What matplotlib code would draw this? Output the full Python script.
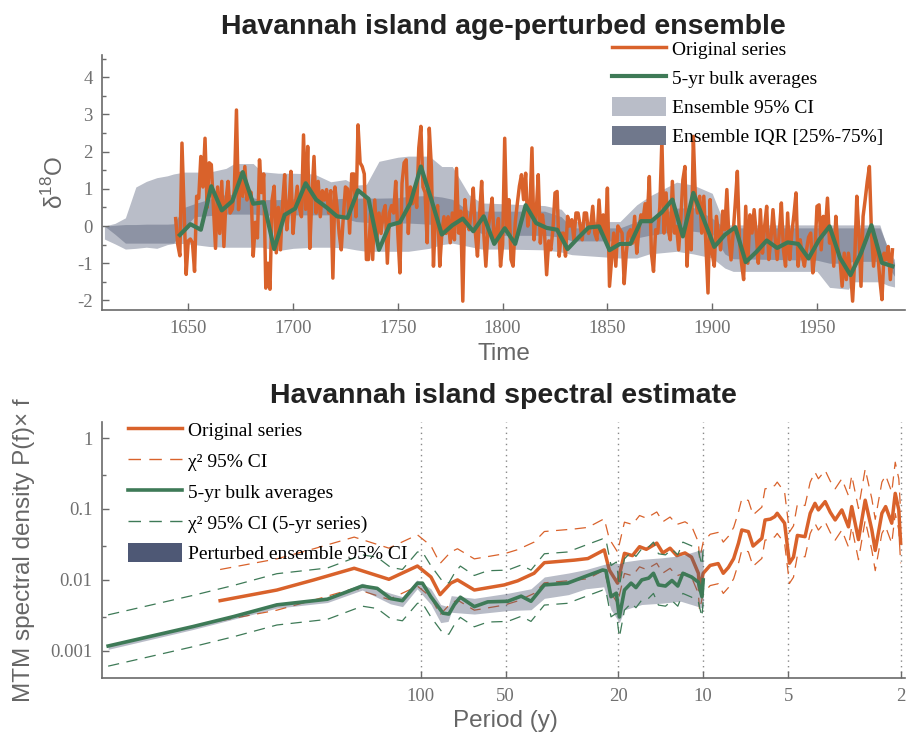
import numpy as np
import matplotlib
matplotlib.use('Agg')
import matplotlib.pyplot as plt
from matplotlib.lines import Line2D
from matplotlib.patches import Patch

plt.rcParams['font.family'] = 'Liberation Sans'
plt.rcParams['mathtext.fontset'] = 'custom'
plt.rcParams['mathtext.rm'] = 'Liberation Sans'
plt.rcParams['axes.unicode_minus'] = False

# ---------------- top panel: d18O time series ----------------
orig_start = 1644
d18o = [
    0.20, -0.50, -0.80, 2.23, 0.50, -1.30,
    -0.40, -0.35, -0.45, -1.22, 0.80, 0.75, 1.87, 1.05, 2.36, 0.50,
    1.70, 1.65, 0.55, -0.60, 1.05, -0.20, 1.20, -0.55, 0.70, 1.20,
    0.35, 0.45, 1.00, 3.12, 0.44, 1.42, 0.80, 1.60, 0.70, 0.95,
    0.90, -0.81, 0.10, -0.32, 1.78, 0.90, 1.40, -1.67, -1.00, -1.70,
    0.70, 1.07, -0.72, 0.50, -0.64, 0.60, 1.38, -0.10, 0.50, 1.47,
    -0.20, 0.55, 1.07, 0.50, 0.25, 2.45, 0.45, 2.14, -0.60, 0.80,
    1.87, 0.35, 1.20, 0.25, 0.95, 0.70, 0.98, 0.35, 0.95, -1.40,
    1.05, 0.50, -0.20, -0.64, 0.25, 1.05, 1.00, -0.19, 1.40, 1.40,
    0.25, 2.72, 1.70, 1.60, 1.40, -0.90, -0.90, 0.35, -0.90, 0.70,
    -0.35, 0.35, -0.20, 0.35, 0.55, -1.00, 0.35, 0.55, 0.35, 1.20,
    -0.20, -1.26, 1.15, 1.70, 1.78, -0.20, 1.05, 0.60, 1.05, 0.50,
    2.10, 2.68, 1.05, 0.90, -0.45, 2.63, 1.60, -1.08, 0.35, 0.55,
    -1.08, -0.20, 0.25, -0.20, 0.25, -0.45, 0.35, -0.37, 1.55, -0.19,
    0.40, -2.02, 0.71, 0.10, -0.10, 0.40, 1.02, -0.19, -0.81, 0.30,
    1.20, -0.19, -1.08, -0.10, 0.30, 0.75, -0.46, -0.19, 0.20, -1.08,
    -0.50, 2.36, -0.05, 0.71, -0.90, -1.08, 0.08, 0.60, 1.07, 1.38,
    0.71, 1.42, 0.00, 0.40, 2.10, -0.37, 0.35, 1.38, -0.46, 0.30,
    -0.19, -1.31, -0.40, -0.64, -0.10, 0.89, 0.93, -0.81, -0.20, -0.19,
    -0.81, 0.26, 0.00, 0.17, -0.37, 0.35, 0.35, 0.00, -0.37, 0.35,
    0.35, -0.20, 0.00, 0.53, -0.20, -0.37, 0.70, -0.19, 0.30, -0.37,
    1.02, -1.62, -0.90, -0.19, -1.08, 0.00, -0.10, -0.19, -1.55, -0.73,
    -0.19, -0.10, -0.46, 0.26, -0.73, -0.10, 0.30, 0.17, 0.60, 0.17,
    1.33, -0.73, -1.22, -0.10, -0.19, 0.50, 2.32, -0.19, 0.89, -0.10,
    -0.37, 1.20, -0.19, -0.01, -0.64, 0.17, 1.24, 1.60, -1.08, 0.26,
    -0.64, 2.41, 0.71, 0.35, 0.80, -0.19, 0.80, -0.50, -1.80, 0.71,
    -0.73, -1.08, 0.26, -0.19, -0.64, 0.40, -0.10, 0.98, -0.37, -0.91,
    -0.19, 0.60, 1.47, -0.37, -1.00, -1.44, 0.53, -1.00, 0.30, -0.19,
    0.44, -0.19, -1.00, 0.44, -0.73, -0.01, 0.53, -0.90, -0.37, 0.44,
    -0.30, -0.90, -0.19, 0.62, -0.64, -1.08, 0.35, -0.90, -0.19, 0.30,
    0.89, -1.08, -0.37, -0.81, -1.08, -0.64, -0.30, -0.19, -1.26, -0.73,
    0.53, 0.57, -0.64, 0.26, -0.10, 0.75, -0.46, -0.19, -1.08, 0.26,
    -0.60, -0.90, -1.62, -0.73, -1.44, -0.73, -1.20, -2.02, -0.90, 0.80,
    -0.19, -1.62, 0.26, 0.71, 1.20, 1.60, -0.19, -1.08, -0.37, -0.73,
    -1.44, -1.98, -0.73, -0.90, -0.55, -1.44, -0.64,
]
orig_years = orig_start + np.arange(len(d18o))

bulk_start, bulk_step = 1646, 5
bulk_d18o = [
    -0.24, 0.05, -0.10, 1.07, 0.42, 0.67, 1.45, 0.60, 0.64, -0.62,
    0.30, 0.47, 1.15, 0.71, 0.50, 0.26, 0.22, 0.96, 0.73, -0.64,
    0.02, 0.10, 0.62, 1.60, 0.71, -0.23, 0.02, 0.20, -0.14, 0.26,
    -0.48, -0.06, -0.48, 0.56, 0.08, -0.05, -0.10, -0.62, -0.32, -0.04,
    -0.01, -0.65, -0.48, -0.48, 0.13, 0.13, 0.37, 0.71, -0.28, 0.89,
    0.17, -0.56, -0.24, -0.03, -0.97, -0.70, -0.39, -0.59, -0.44, -0.48,
    -0.87, -0.37, -0.01, -0.86, -1.32, -0.73, 0.02, -0.99, -1.08,
]
bulk_years = bulk_start + bulk_step * np.arange(len(bulk_d18o))

# ensemble envelopes (knots)
band_years = [1610, 1615, 1620, 1625, 1630, 1635, 1640, 1643, 1648, 1653,
              1660, 1668, 1672, 1681, 1685, 1693, 1700, 1710, 1718, 1725,
              1730, 1735, 1741, 1750, 1755, 1765, 1771, 1776, 1784, 1790,
              1800, 1820, 1828, 1833, 1856, 1864, 1870, 1883, 1891, 1900,
              1906, 1910, 1950, 1956, 1965, 1967, 1980, 1984, 1987]
ci_lo = [-0.35, -0.48, -0.62, -0.60, -0.57, -0.60, -0.50, -0.47, -0.47, -0.50,
         -0.55, -0.57, -0.57, -0.57, -0.57, -0.66, -0.60, -0.57, -0.57, -0.59,
         -0.64, -0.68, -0.68, -0.68, -0.68, -0.60, -0.50, -0.46, -0.55, -0.62,
         -0.62, -0.64, -0.70, -0.77, -0.86, -0.86, -0.75, -0.68, -0.75, -0.86,
         -1.13, -1.22, -1.22, -1.65, -1.70, -1.50, -1.50, -1.60, -1.64]
iqr_lo = [0.00, -0.22, -0.46, -0.46, -0.46, -0.46, -0.46, -0.46, -0.05, 0.25,
          0.28, 0.32, 0.32, 0.32, 0.30, 0.28, 0.30, 0.30, 0.30, 0.20,
          0.12, 0.10, 0.08, 0.08, 0.08, 0.05, 0.02, 0.00, -0.05, -0.20,
          -0.25, -0.25, -0.30, -0.40, -0.40, -0.32, -0.25, -0.14, -0.14, -0.20,
          -0.75, -0.88, -0.92, -1.00, -1.00, -0.95, -0.95, -1.10, -1.35]
iqr_hi = [0.00, 0.02, 0.04, 0.04, 0.05, 0.05, 0.05, 0.06, 0.50, 0.60,
          0.72, 0.85, 0.85, 0.76, 0.71, 0.71, 0.73, 0.76, 0.72, 0.75,
          0.75, 0.75, 0.75, 0.76, 0.80, 0.82, 0.78, 0.72, 0.40, 0.40,
          0.40, 0.40, 0.25, -0.05, -0.05, 0.12, 0.20, 0.48, 0.50, 0.21,
          -0.05, -0.05, -0.05, -0.05, -0.05, -0.05, -0.05, -0.60, -1.00]
ci_hi = [0.00, 0.07, 0.22, 1.05, 1.20, 1.30, 1.35, 1.40, 1.45, 1.45,
         1.45, 1.55, 1.68, 1.68, 1.46, 1.42, 1.42, 1.40, 1.19, 1.25,
         1.10, 1.12, 1.74, 1.85, 1.88, 1.88, 1.60, 1.60, 0.84, 0.62,
         0.60, 0.55, 0.45, 0.12, 0.12, 0.57, 0.80, 1.18, 1.10, 0.88,
         0.03, 0.03, 0.03, 0.03, 0.03, 0.03, 0.03, -0.68, -0.90]

# ---------------- bottom panel: MTM spectra ----------------
per_orig = [513, 323, 239, 172, 129.6, 102.7, 92, 85.4, 78.3, 74.1, 64.6, 50.6,
            45.4, 39.7, 36.5, 28.6, 25.6, 22.4, 21.5, 20.1, 19.0, 17.8, 16.8,
            15.9, 14.6, 13.9, 13.1, 12.4, 11.6, 11.0, 10.4, 10.3, 10.0, 9.45,
            8.85, 8.49, 8.14, 7.8, 7.5, 7.3, 6.92, 6.66, 6.2, 6.04, 5.78, 5.58,
            5.47, 5.15, 4.95, 4.79, 4.64, 4.36, 4.18, 4.02, 3.91, 3.70, 3.55,
            3.41, 3.23, 3.06, 2.98, 2.82, 2.67, 2.53, 2.46, 2.33, 2.26, 2.15,
            2.09, 2.03, 2.00]
psd_orig = [0.0051, 0.0072, 0.0100, 0.0146, 0.0102, 0.0157, 0.0110, 0.0062,
            0.0090, 0.0100, 0.0072, 0.0085, 0.0097, 0.0124, 0.0175, 0.0190,
            0.0200, 0.0265, 0.0138, 0.0090, 0.0237, 0.0220, 0.0294, 0.0270,
            0.0330, 0.0240, 0.0280, 0.0220, 0.0240, 0.0210, 0.0124, 0.0072,
            0.0124, 0.0160, 0.0170, 0.0124, 0.0150, 0.0200, 0.0330, 0.0506,
            0.0480, 0.0300, 0.0386, 0.0700, 0.0720, 0.0780, 0.0870, 0.0630,
            0.0172, 0.0210, 0.0424, 0.0407, 0.0870, 0.1200, 0.0970, 0.1270,
            0.0900, 0.0700, 0.0970, 0.0560, 0.1080, 0.0370, 0.1330, 0.0510,
            0.0260, 0.0870, 0.1080, 0.0630, 0.1660, 0.0970, 0.0330]

per_bulk = [1278, 640, 460, 323, 214, 161, 142.6, 127.8, 116.1, 102.7, 98.6,
            92.1, 83.4, 79.5, 76, 72.4, 64.6, 57.9, 49.2, 44.1, 40.7, 36.5,
            30.2, 26.3, 22.7, 22.1, 21.2, 20.3, 19.8, 19.0, 18.0, 17.3, 16.5,
            15.6, 15.0, 14.4, 13.6, 12.9, 12.3, 11.8, 11.0, 10.4, 10.1, 10.0]
psd_bulk = [0.00117, 0.0022, 0.00304, 0.00445, 0.00535, 0.0082, 0.0076,
            0.00546, 0.0051, 0.0090, 0.0090, 0.0058, 0.0034, 0.0033, 0.0045,
            0.0057, 0.0042, 0.0049, 0.0050, 0.0059, 0.0050, 0.0085, 0.0090,
            0.0111, 0.0138, 0.0135, 0.0058, 0.0065, 0.0030, 0.0072, 0.0090,
            0.0078, 0.0100, 0.0106, 0.0124, 0.0085, 0.0082, 0.0098, 0.0082,
            0.0124, 0.0110, 0.0093, 0.0058, 0.0100]

ens_per = [1278, 640, 323, 214, 161, 128, 116, 103, 92, 85, 80, 78, 64.6, 49,
           40.7, 36.5, 30, 26, 22.5, 21.2, 19.8, 19, 16.5, 14, 12, 10.4, 10.0]
ens_lo = [0.00105, 0.0020, 0.0040, 0.0048, 0.0072, 0.0046, 0.0042, 0.0075,
          0.0045, 0.0025, 0.0026, 0.0035, 0.0033, 0.0037, 0.0038, 0.0055,
          0.0062, 0.0075, 0.0080, 0.0038, 0.0025, 0.0038, 0.0045, 0.0047,
          0.0050, 0.0042, 0.0040]
ens_hi = [0.00122, 0.0023, 0.0046, 0.0056, 0.0090, 0.0065, 0.0058, 0.0100,
          0.0075, 0.0045, 0.0042, 0.0060, 0.0055, 0.0065, 0.0075, 0.0110,
          0.0125, 0.0140, 0.0165, 0.0175, 0.0170, 0.0180, 0.0195, 0.0205,
          0.0220, 0.0260, 0.0270]

chi2_hi, chi2_lo = 2.75, 0.52   # chi-square 95% bounds relative to estimate
period_ticks = [100, 50, 20, 10, 5, 2]

ORANGE = '#D9622B'
GREEN = '#3E7A57'
CI_GRAY = '#B9BDC8'
IQR_COL = '#70788C'
ENS_COL = '#4E5875'
AX_GRAY = '#6A6A6A'
LBL_GRAY = '#666666'
serif = 'Liberation Serif'
DASH = (0, (9, 6))

fig = plt.figure(figsize=(9.08, 7.33), dpi=100)
ax1 = fig.add_axes([0.1127, 0.577, 0.884, 0.348])
ax2 = fig.add_axes([0.1127, 0.0746, 0.884, 0.3501])


def style_axes(ax):
    for s in ['top', 'right']:
        ax.spines[s].set_visible(False)
    for s in ['left', 'bottom']:
        ax.spines[s].set_color(AX_GRAY)
        ax.spines[s].set_linewidth(1.2)
    ax.tick_params(which='both', direction='in', color=AX_GRAY, width=1,
                   labelcolor='#707070', labelsize=13.5, pad=7)
    ax.tick_params(which='major', length=5)
    ax.tick_params(which='minor', length=3)
    for lab in ax.get_xticklabels() + ax.get_yticklabels():
        lab.set_fontfamily(serif)


# ---- top ----
ax1.fill_between(band_years, ci_lo, ci_hi, color=CI_GRAY, lw=0, zorder=1)
ax1.fill_between(band_years, iqr_lo, iqr_hi, color=IQR_COL, alpha=0.6, lw=0, zorder=1.5)
ax1.plot(orig_years, d18o, color=ORANGE, lw=2.5, zorder=2)
ax1.plot(bulk_years, bulk_d18o, color=GREEN, lw=3, zorder=3)
ax1.set_xlim(1609, 1992)
ax1.set_ylim(-2.26, 4.6)
ax1.set_xticks([1650, 1700, 1750, 1800, 1850, 1900, 1950])
ax1.set_yticks([-2, -1, 0, 1, 2, 3, 4])
ax1.set_yticks(np.arange(-1.5, 4.6, 1.0), minor=True)
style_axes(ax1)

h1 = [Line2D([], [], color=ORANGE, lw=2.5),
      Line2D([], [], color=GREEN, lw=3),
      Patch(facecolor=CI_GRAY, edgecolor='none'),
      Patch(facecolor=IQR_COL, edgecolor='none')]
l1 = ['Original series', '5-yr bulk averages', 'Ensemble 95% CI',
      'Ensemble IQR [25%-75%]']
fig.legend(h1, l1, loc='upper left', bbox_to_anchor=(612 / 908, 1 - 39 / 733),
           frameon=False, prop={'family': serif, 'size': 14},
           handlelength=2.8, handleheight=1.13, handletextpad=0.3,
           labelspacing=0.46, borderpad=0, borderaxespad=0)

fig.text(0.5545, 1 - 34 / 733, 'Havannah island age-perturbed ensemble',
         ha='center', va='baseline', fontsize=20.5, fontweight='bold', color='#222222')
fig.text(0.5545, 1 - 360 / 733, 'Time', ha='center', va='baseline',
         fontsize=17.5, color=LBL_GRAY)
fig.text(55 / 908, 1 - 182.5 / 733, r'δ$^{18}$O', rotation=90, ha='center',
         va='center', fontsize=17.5, color=LBL_GRAY)

# ---- bottom ----
for p in period_ticks:
    ax2.axvline(p, color='#888888', lw=1, ls=(0, (1, 3)), zorder=0)
po = np.array(psd_orig)
pb = np.array(psd_bulk)
ax2.plot(per_orig, po, color=ORANGE, lw=2.5, zorder=2)
ax2.plot(per_orig, po * chi2_hi, color=ORANGE, lw=0.9, ls=DASH, zorder=2)
ax2.plot(per_orig, po * chi2_lo, color=ORANGE, lw=0.9, ls=DASH, zorder=2)
ax2.fill_between(ens_per, ens_lo, ens_hi, color=ENS_COL, alpha=0.4, lw=0, zorder=3)
ax2.plot(per_bulk, pb, color=GREEN, lw=2.6, zorder=4)
ax2.plot(per_bulk, pb * chi2_hi, color=GREEN, lw=0.9, ls=DASH, zorder=4)
ax2.plot(per_bulk, pb * chi2_lo, color=GREEN, lw=0.9, ls=DASH, zorder=4)
ax2.set_xscale('log')
ax2.set_yscale('log')
ax2.set_xlim(1340, 1.93)
ax2.set_ylim(4.1e-4, 1.7)
ax2.set_xticks(period_ticks)
ax2.set_xticklabels([str(p) for p in period_ticks])
ax2.xaxis.set_minor_locator(matplotlib.ticker.NullLocator())
ax2.set_yticks([0.001, 0.01, 0.1, 1])
ax2.set_yticklabels(['0.001', '0.01', '0.1', '1'])
ax2.set_yticks([0.003, 0.03, 0.3], minor=True)
ax2.yaxis.set_minor_formatter(matplotlib.ticker.NullFormatter())
style_axes(ax2)

h2 = [Line2D([], [], color=ORANGE, lw=2.5),
      Line2D([], [], color=ORANGE, lw=1.0, ls=DASH),
      Line2D([], [], color=GREEN, lw=2.6),
      Line2D([], [], color=GREEN, lw=1.0, ls=DASH),
      Patch(facecolor=ENS_COL, edgecolor='none')]
l2 = ['Original series', 'χ² 95% CI', '5-yr bulk averages',
      'χ² 95% CI (5-yr series)', 'Perturbed ensemble 95% CI']
fig.legend(h2, l2, loc='upper left', bbox_to_anchor=(128 / 908, 1 - 420 / 733),
           frameon=False, prop={'family': serif, 'size': 14},
           handlelength=2.8, handleheight=1.13, handletextpad=0.3,
           labelspacing=0.55, borderpad=0, borderaxespad=0)

fig.text(0.5545, 1 - 403 / 733, 'Havannah island spectral estimate',
         ha='center', va='baseline', fontsize=20.5, fontweight='bold', color='#222222')
fig.text(505 / 908, 1 - 727 / 733, 'Period (y)', ha='center', va='baseline',
         fontsize=17.5, color=LBL_GRAY)
fig.text(24 / 908, 1 - 550 / 733, 'MTM spectral density P(f)× f', rotation=90,
         ha='center', va='center', fontsize=17.5, color=LBL_GRAY)

fig.savefig('out.png', dpi=100)
